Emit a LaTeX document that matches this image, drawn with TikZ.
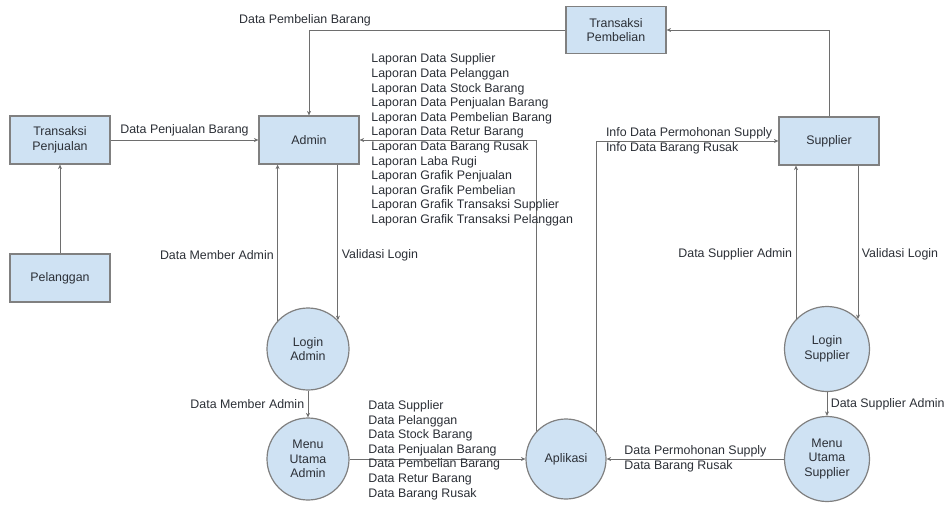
\documentclass[tikz,border=0pt]{standalone}
\usepackage{fontspec}
\setmainfont{Liberation Sans}
\usetikzlibrary{arrows.meta,positioning}
\definecolor{boxfill}{HTML}{CFE2F3}
\definecolor{boxline}{HTML}{808080}
\definecolor{flowline}{HTML}{6E6E6E}
\definecolor{txt}{HTML}{2B2F36}

\begin{document}
\begin{tikzpicture}[x=1pt,y=-1pt,font=\fontsize{12.4}{14.6}\selectfont,
  >={Stealth[length=4.5pt,width=4pt]},
  ent/.style={rectangle,draw=boxline,fill=boxfill,line width=1.2pt,minimum width=100pt,minimum height=48pt,align=center,text=txt},
  proc/.style={circle,draw=boxline,fill=boxfill,line width=1.2pt,minimum size=82pt,inner sep=0pt,align=center,text=txt},
  flow/.style={->,draw=flowline,line width=1pt},
  lbl/.style={text=txt,align=left}]
\useasboundingbox (0,0) rectangle (951,504);
%
{
\node (tpj) [ent] at (60,140) {Transaksi\\Penjualan};
\node (pel) [ent] at (60,278) {Pelanggan};
\node (adm) [ent] at (309,140) {Admin};
\node (tpb) [ent,minimum height=47pt] at (616,30) {Transaksi\\Pembelian};
\node (sup) [ent] at (829,141) {Supplier};
}
%
{
\node (la) [proc] at (308,349) {Login\\Admin};
\node (mua) [proc] at (308,459) {Menu\\Utama\\Admin};
\node (app) [proc,minimum size=80pt] at (566,459) {Aplikasi};
\node (ls) [proc,minimum size=85pt] at (827,349) {Login\\Supplier};
\node (mus) [proc,minimum size=85pt] at (827,459) {Menu\\Utama\\Supplier};
}
%
{
\draw[flow] (pel) -- (tpj);
\draw[flow] (tpj) -- node[above,lbl] {Data Penjualan Barang} (adm);
\draw[flow] (tpb) -| node[pos=0.5,above,xshift=-4pt,lbl] {Data Pembelian Barang} (adm);
\draw[flow] (sup) |- (tpb);
}
%
{
\draw[flow] (app.137) |- node[at end,anchor=west,xshift=8pt,lbl] {Laporan Data Supplier\\Laporan Data Pelanggan\\Laporan Data Stock Barang\\Laporan Data Penjualan Barang\\Laporan Data Pembelian Barang\\Laporan Data Retur Barang\\Laporan Data Barang Rusak\\Laporan Laba Rugi\\Laporan Grafik Penjualan\\Laporan Grafik Pembelian\\Laporan Grafik Transaksi Supplier\\Laporan Grafik Transaksi Pelanggan} (adm);
\draw[flow] (app.42) |- node[pos=0.5,anchor=west,xshift=6pt,lbl] {Info Data Permohonan Supply\\Info Data Barang Rusak} (sup);
}
%
{
\draw[flow] (la.137) -- node[pos=0.42,left,lbl] {Data Member Admin} (la.137 |- adm.south);
\draw[flow] (la.44 |- adm.south) -- node[pos=0.58,right,lbl] {Validasi Login} (la.44);
\draw[flow] (la) -- node[left,lbl] {Data Member Admin} (mua);
\draw[flow] (mua) -- node[at start,anchor=west,xshift=15pt,yshift=9pt,lbl] {Data Supplier\\Data Pelanggan\\Data Stock Barang\\Data Penjualan Barang\\Data Pembelian Barang\\Data Retur Barang\\Data Barang Rusak} (app);
}
%
{
\draw[flow] (mus) -- node[at end,anchor=west,xshift=14pt,lbl] {Data Permohonan Supply\\Data Barang Rusak} (app);
\draw[flow] (ls.136) -- node[pos=0.42,left,lbl] {Data Supplier Admin} (ls.136 |- sup.south);
\draw[flow] (sup.south -| ls.44) -- node[pos=0.58,right,lbl] {Validasi Login} (ls.44);
\draw[flow] (ls) -- node[right,lbl] {Data Supplier Admin} (mus);
}
\end{tikzpicture}
\end{document}
